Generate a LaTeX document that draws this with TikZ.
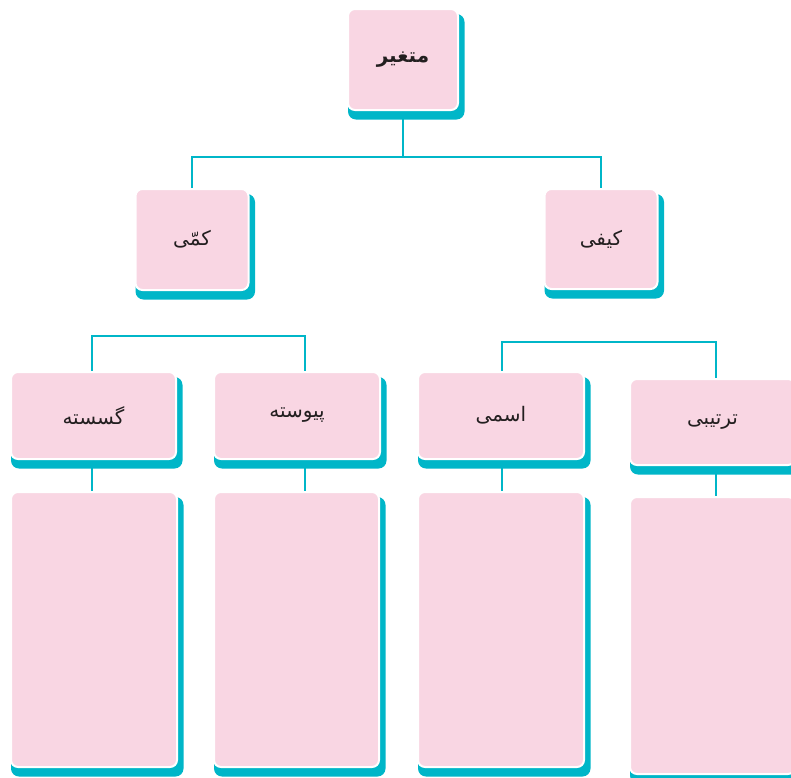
\documentclass[tikz,border=0pt]{standalone}
\usepackage{fontspec}
\newfontfamily\arabicfont[Script=Arabic]{DejaVu Sans}
\TeXXeTstate=1
\usetikzlibrary{backgrounds}
\definecolor{boxpink}{RGB}{249,214,227}
\definecolor{linecyan}{RGB}{0,182,200}
\definecolor{inkgray}{RGB}{35,31,32}
\newcommand{\fa}[1]{{\arabicfont\beginR #1\endR}}

\begin{document}
\begin{tikzpicture}[x=1pt,y=-1pt,
  box/.style={draw=white,line width=2pt,fill=boxpink,rounded corners=7pt,inner sep=0pt,text=inkgray,font=\fontsize{20}{24}\selectfont},
  link/.style={draw=linecyan,line width=2pt},
  shade/.style={fill=linecyan,rounded corners=8pt}]
\useasboundingbox (0,0) rectangle (791,777);
\node[box,minimum width=110pt,minimum height=101pt] (var) at (403,59.5) {\fa{\bfseries متغیر}};
\node[box,minimum width=113pt,minimum height=101pt] (quant) at (192,239.5) {\fa{کمّی}};
\node[box,minimum width=113pt,minimum height=100pt] (qual) at (601,239) {\fa{کیفی}};
\node[box,minimum width=165pt,minimum height=87pt] (disc) at (93.5,415.5) {\fa{گسسته}};
\node[box,minimum width=166pt,minimum height=87pt] (cont) at (297,415.5) {\fa{پیوسته}};
\node[box,minimum width=166pt,minimum height=87pt] (nom) at (501,415.5) {\fa{اسمی}};
\node[box,minimum width=165pt,minimum height=86pt] (ord) at (712.5,422) {\fa{ترتیبی}};
\node[box,minimum width=166pt,minimum height=275pt] (discbox) at (94,629.5) {};
\node[box,minimum width=165pt,minimum height=275pt] (contbox) at (296.5,629.5) {};
\node[box,minimum width=166pt,minimum height=275pt] (nombox) at (501,629.5) {};
\node[box,minimum width=165pt,minimum height=277pt] (ordbox) at (712.5,635.5) {};
\coordinate (top) at (403,157);
\coordinate (kl) at (92,336);
\coordinate (kr) at (305,336);
\coordinate (fl) at (502,342);
\coordinate (fr) at (716,342);
\begin{pgfonlayer}{background}
\foreach \n in {var,quant,qual,disc,cont,nom,ord,discbox,contbox,nombox,ordbox}
  \fill[shade] ([xshift=1pt,yshift=-6pt]\n.north west) rectangle ([xshift=5.5pt,yshift=-8.5pt]\n.south east);
\draw[link] (var.south) -- (top);
\draw[link] (quant.north) |- (top) -| (qual.north);
\draw[link] (kl |- disc.north) -- (kl) -- (kr) -- (kr |- cont.north);
\draw[link] (fl |- nom.north) -- (fl) -- (fr) -- (fr |- ord.north);
\foreach \a/\b/\c in {disc/discbox/kl,cont/contbox/kr,nom/nombox/fl,ord/ordbox/fr}
  \draw[link] (\c |- \a.south) -- (\c |- \b.north);
\end{pgfonlayer}
\end{tikzpicture}
\end{document}
